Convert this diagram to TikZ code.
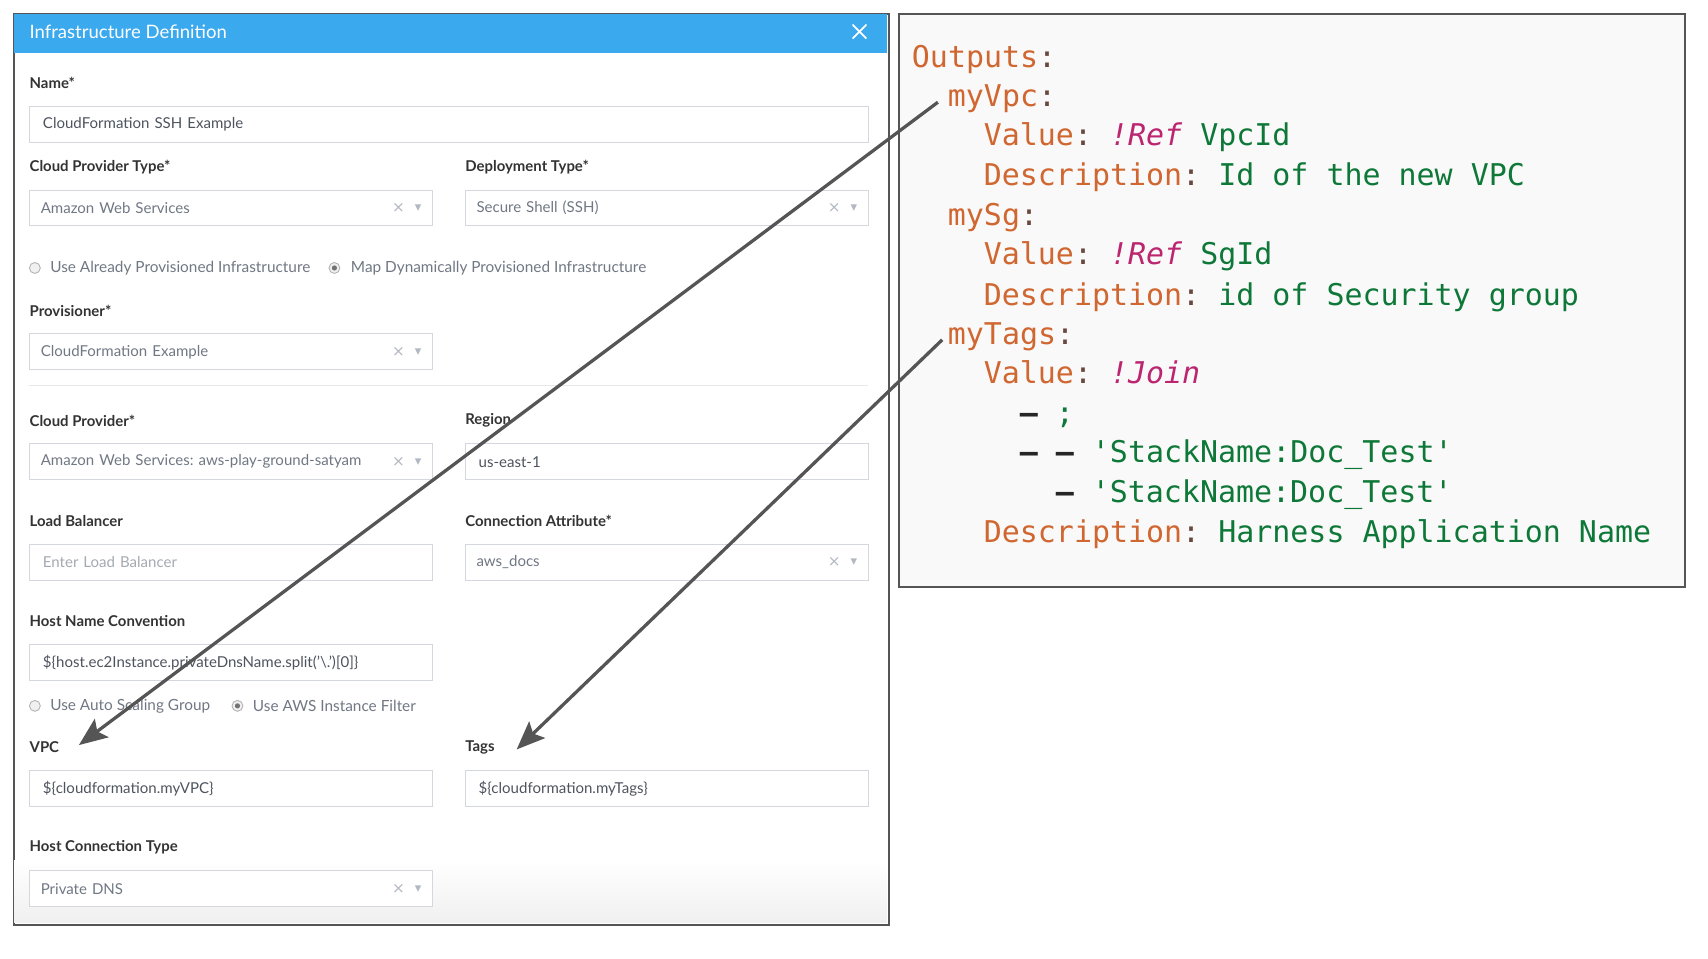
\documentclass[tikz,border=0pt]{standalone}
\usepackage{fontspec}
\setmainfont{Lato}
\setmonofont{DejaVu Sans Mono}
\newfontfamily\symfont{DejaVu Sans}
\usetikzlibrary{arrows.meta}
\frenchspacing

\definecolor{titleblue}{RGB}{59,169,238}
\definecolor{framegray}{RGB}{85,85,85}
\definecolor{labeltext}{RGB}{51,51,51}
\definecolor{selecttext}{RGB}{112,120,132}
\definecolor{inputtext}{RGB}{78,84,94}
\definecolor{placeholder}{RGB}{165,170,178}
\definecolor{fieldline}{RGB}{212,216,222}
\definecolor{iconcolor}{RGB}{178,184,194}
\definecolor{codebg}{RGB}{249,249,249}
\definecolor{keyorange}{RGB}{208,102,48}
\definecolor{colonbrown}{RGB}{105,72,62}
\definecolor{refmagenta}{RGB}{188,38,112}
\definecolor{valgreen}{RGB}{14,120,56}

\newcommand{\yamlkey}[1]{\textcolor{keyorange}{#1}\textcolor{colonbrown}{:}}
\newcommand{\yamlref}[1]{\textcolor{refmagenta}{\itshape #1}}
\newcommand{\yamlval}[1]{\textcolor{valgreen}{#1}}
\newcommand{\yamldash}{\textcolor{black!85}{\bfseries –}}

\begin{document}
\begin{tikzpicture}[x=1pt, y=-1pt,
	lbl/.style={anchor=west, inner sep=0pt, font=\fontsize{13.7}{16}\selectfont\bfseries, text=labeltext},
	field/.style={draw=fieldline, fill=white, line width=0.9pt, anchor=north west, minimum height=33pt,
		inner xsep=12pt, text width=#1, align=left, font=\fontsize{13.8}{16}\selectfont, text=inputtext},
	field/.default=346,
	select/.style={field=350, inner xsep=10pt, text=selecttext},
	clear/.style={inner sep=0pt, font=\symfont\fontsize{14}{14}\selectfont, text=iconcolor},
	drop/.style={inner sep=0pt, font=\symfont\fontsize{12}{12}\selectfont, text=iconcolor},
	radio/.style={circle, draw=black!30, fill=black!6, line width=0.8pt, minimum size=10pt, inner sep=0pt},
	radio on/.style={radio, path picture={\fill[black!55] (path picture bounding box.center) circle (2.4pt);}},
	option/.style={anchor=west, inner sep=0pt, font=\fontsize{14.1}{16}\selectfont, text=selecttext},
	code/.style={anchor=base west, inner sep=0pt, font=\ttfamily\fontsize{27.5}{30}\selectfont},
	link/.style={draw=framegray, line width=3pt, -{Stealth[length=26pt, width=21pt, inset=5pt]}}]

	\useasboundingbox (0,0) rectangle (1568,880);

	% form dialog
	\node[draw=framegray, fill=white, line width=2pt, anchor=north west, minimum width=803pt, minimum height=836pt] (form) at (12,12) {};
	\shade[top color=white, bottom color=black!6] (13,790) rectangle (814,847);
	\node[fill=titleblue, anchor=north west, minimum width=801pt, minimum height=35pt, inner sep=0pt] (titlebar) at (13,13) {};
	\node[anchor=west, inner sep=0pt, text=white, font=\fontsize{17}{20}\selectfont] (title) at (27,29) {Infrastructure Definition};
	\node[minimum size=13pt, inner sep=0pt, path picture={
		\draw[white, line width=1.6pt] (path picture bounding box.north west) -- (path picture bounding box.south east);
		\draw[white, line width=1.6pt] (path picture bounding box.south west) -- (path picture bounding box.north east);}] (close) at (789,29) {};

	\node[lbl] (namelbl) at (27,76) {Name*};
	\node[field=746] (namebox) at (27,97) {CloudFormation SSH Example};

	\node[lbl] (cptlbl) at (27,153) {Cloud Provider Type*};
	\node[select] (cptbox) at (27,174) {Amazon Web Services};
	\node[clear] (cptclear) at ([xshift=-32pt]cptbox.east) {×};
	\node[drop] (cptdrop) at ([xshift=-14pt]cptbox.east) {▾};
	\node[lbl] (dtlbl) at (427,153) {Deployment Type*};
	\node[select] (dtbox) at (427,174) {Secure Shell (SSH)};
	\node[clear] (dtclear) at ([xshift=-32pt]dtbox.east) {×};
	\node[drop] (dtdrop) at ([xshift=-14pt]dtbox.east) {▾};

	\node[radio] (usedradio) at (32,246) {};
	\node[option] (usedtext) at (46,246) {Use Already Provisioned Infrastructure};
	\node[radio on] (mapradio) at (307,246) {};
	\node[option] (maptext) at (322,246) {Map Dynamically Provisioned Infrastructure};

	\node[lbl] (provlbl) at (27,285) {Provisioner*};
	\node[select] (provbox) at (27,306) {CloudFormation Example};
	\node[clear] (provclear) at ([xshift=-32pt]provbox.east) {×};
	\node[drop] (provdrop) at ([xshift=-14pt]provbox.east) {▾};

	\draw[black!9, line width=1pt] (27,354) -- (797,354);

	\node[lbl] (cplbl) at (27,386) {Cloud Provider*};
	\node[select] (cpbox) at (27,407) {Amazon Web Services: aws-play-ground-satyam};
	\node[clear] (cpclear) at ([xshift=-32pt]cpbox.east) {×};
	\node[drop] (cpdrop) at ([xshift=-14pt]cpbox.east) {▾};
	\node[lbl] (reglbl) at (427,386) {Region};
	\node[field] (regbox) at (427,407) {us-east-1};

	\node[lbl] (lblbl) at (27,478) {Load Balancer};
	\node[field, text=placeholder] (lbbox) at (27,499) {Enter Load Balancer};
	\node[lbl] (calbl) at (427,478) {Connection Attribute*};
	\node[select] (cabox) at (427,499) {aws\_docs};
	\node[clear] (caclear) at ([xshift=-32pt]cabox.east) {×};
	\node[drop] (cadrop) at ([xshift=-14pt]cabox.east) {▾};

	\node[lbl] (hnclbl) at (27,570) {Host Name Convention};
	\node[field] (hncbox) at (27,591) {\$\{host.ec2Instance.privateDnsName.split('\textbackslash.')[0]\}};

	\node[radio] (asgradio) at (32,648) {};
	\node[option] (asgtext) at (46,648) {Use Auto Scaling Group};
	\node[radio on] (filterradio) at (218,648) {};
	\node[option] (filtertext) at (232,648) {Use AWS Instance Filter};

	\node[lbl] (vpclbl) at (27,686) {VPC};
	\node[field] (vpcbox) at (27,707) {\$\{cloudformation.myVPC\}};
	\node[lbl] (tagslbl) at (427,686) {Tags};
	\node[field] (tagsbox) at (427,707) {\$\{cloudformation.myTags\}};

	\node[lbl] (hctlbl) at (27,778) {Host Connection Type};
	\node[select] (hctbox) at (27,799) {Private DNS};
	\node[clear] (hctclear) at ([xshift=-32pt]hctbox.east) {×};
	\node[drop] (hctdrop) at ([xshift=-14pt]hctbox.east) {▾};

	% yaml outputs
	\node[draw=framegray, fill=codebg, line width=2pt, anchor=north west, minimum width=722pt, minimum height=526pt] (yaml) at (824,12) {};
	\node[code] (outputs) at (837,62) {\yamlkey{Outputs}};
	\node[code] (myvpc) at (870,98) {\yamlkey{myVpc}};
	\node[code] (vpcvalue) at (903,134) {\yamlkey{Value} \yamlref{!Ref} \yamlval{VpcId}};
	\node[code] (vpcdesc) at (903,170) {\yamlkey{Description} \yamlval{Id of the new VPC}};
	\node[code] (mysg) at (870,207) {\yamlkey{mySg}};
	\node[code] (sgvalue) at (903,243) {\yamlkey{Value} \yamlref{!Ref} \yamlval{SgId}};
	\node[code] (sgdesc) at (903,280) {\yamlkey{Description} \yamlval{id of Security group}};
	\node[code] (mytags) at (870,316) {\yamlkey{myTags}};
	\node[code] (tagsvalue) at (903,352) {\yamlkey{Value} \yamlref{!Join}};
	\node[code] (joinsep) at (936,389) {\yamldash{} \yamlval{;}};
	\node[code] (joinfirst) at (936,425) {\yamldash{} \yamldash{} \yamlval{'StackName:Doc\_Test'}};
	\node[code] (joinsecond) at (969,461) {\yamldash{} \yamlval{'StackName:Doc\_Test'}};
	\node[code] (tagsdesc) at (903,498) {\yamlkey{Description} \yamlval{Harness Application Name}};

	% links from outputs to fields
	\draw[link] ([xshift=-9pt,yshift=-3pt]myvpc.west) -- ([xshift=18pt,yshift=2pt]vpclbl.east);
	\draw[link] ([xshift=-5pt,yshift=-3pt]mytags.west) -- ([xshift=20pt,yshift=-2pt]tagslbl.east);
\end{tikzpicture}
\end{document}
